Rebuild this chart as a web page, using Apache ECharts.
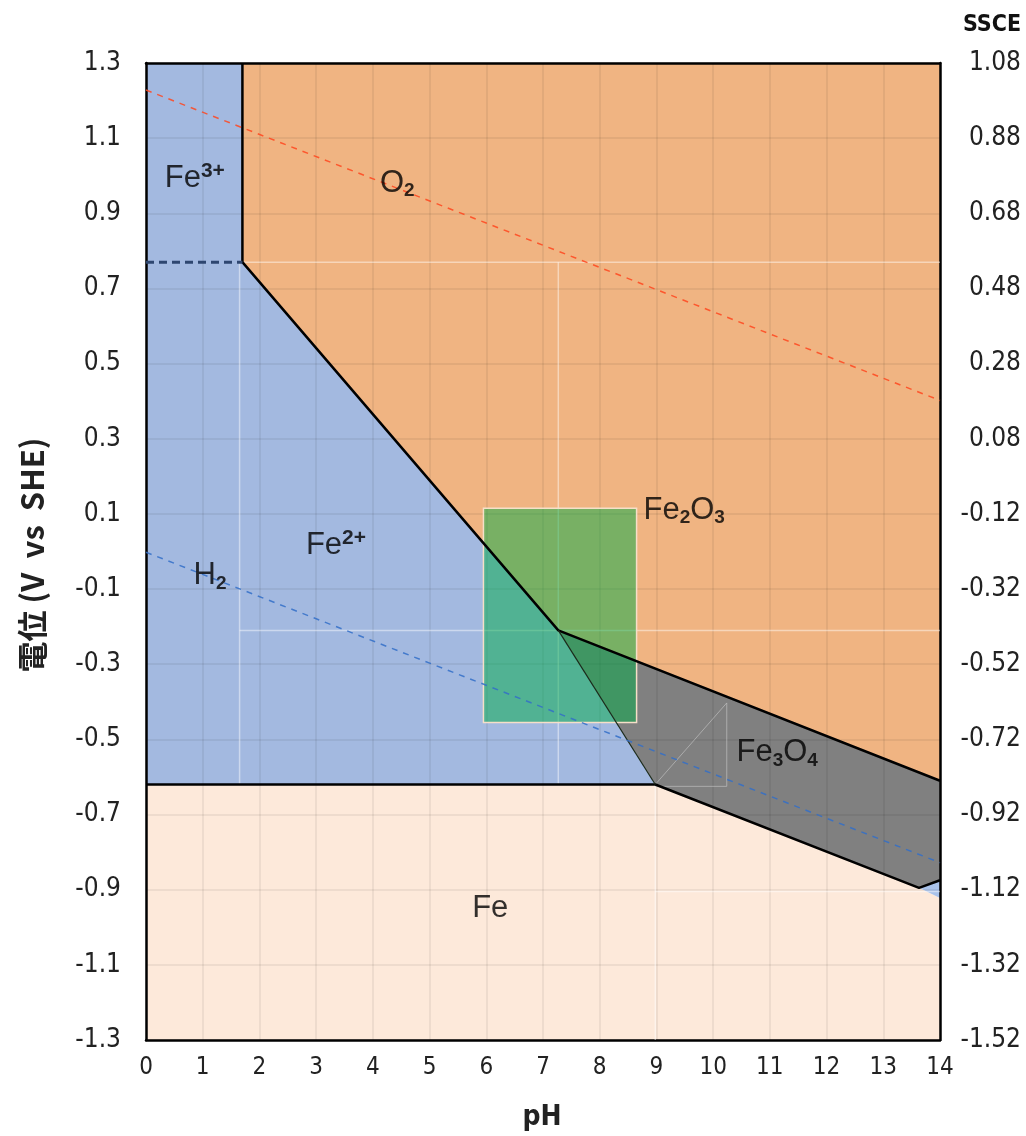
<!DOCTYPE html>
<html><head><meta charset="utf-8">
<script src="https://cdn.jsdelivr.net/npm/echarts@6/dist/echarts.min.js"></script>
<style>html,body{margin:0;padding:0;background:#fff}#c{width:1026px;height:1136px}</style>
</head><body><div id="c"></div>
<script>
// ---- data (pH, E vs SHE in V) ----
const E_MIN = -1.3, E_MAX = 1.3, E_STEP = 0.2;
const PH_MIN = 0, PH_MAX = 14, PH_STEP = 1;
const SSCE_OFFSET = 0.22;

const regionFe3Fe2 = [[0,1.3],[1.7,1.3],[1.7,0.77],[7.27,-0.21],[8.98,-0.62],[0,-0.62]];
const regionFe2O3  = [[1.7,1.3],[14,1.3],[14,-0.61],[7.27,-0.21],[1.7,0.77]];
const regionFe3O4  = [[7.27,-0.21],[14,-0.61],[14,-0.875],[13.63,-0.895],[8.98,-0.62]];
const regionFe     = [[0,-0.62],[8.98,-0.62],[13.63,-0.895],[14,-0.922],[14,-1.3],[0,-1.3]];
const regionHFeO2  = [[13.63,-0.895],[14,-0.875],[14,-0.922]];
const greenRect    = [[5.95,0.115],[8.65,0.115],[8.65,-0.455],[5.95,-0.455]];

const boundaryUpper = [[1.7,1.3],[1.7,0.77],[7.27,-0.21],[14,-0.61]];
const boundaryLower = [[0,-0.62],[8.98,-0.62],[13.63,-0.895],[14,-0.875]];
const boundaryFe2Fe3O4 = [[7.27,-0.21],[8.98,-0.62]];

const lineFe3Fe2 = [[0,0.77],[1.7,0.77]];
const lineO2 = [[0,1.228],[14,0.402]];
const lineH2 = [[0,-0.002],[14,-0.828]];

const faintLines = [
  [[1.65,0.77],[1.65,-0.62]],
  [[1.65,-0.21],[14,-0.21]],
  [[1.7,0.77],[14,0.77]],
  [[7.27,0.77],[7.27,-0.62]],
  [[8.98,-0.905],[14,-0.905]],
  [[8.98,-0.62],[8.98,-1.3]]
];
const grayGuide = [[8.98,-0.62],[10.24,-0.403],[10.24,-0.625],[8.98,-0.625]];

// label text: base part and rich-text script parts
const labelNames = ['Fe{sup|3+}','O{sub|2}','Fe{sub|2}O{sub|3}','Fe{sup|2+}','H{sub|2}','Fe{sub|3}O{sub|4}','Fe'];
const labelPH    = [0.86, 4.43, 9.49, 3.35, 1.13, 11.13, 6.07];
const labelE     = [0.994, 0.98, 0.11, 0.017, -0.065, -0.536, -0.949];

// ---- helpers ----
const toAxis = p => [p[0], p[1] - E_MIN];
const polygons = [regionFe3Fe2, regionFe2O3, regionFe3O4, regionFe, regionHFeO2];
const polyColors = ['#A3B9E0','#F0B482','#808080','#FDE9DA','#A9C2EA'];
const numFont = "'Liberation Sans Narrow','DejaVu Sans Condensed','Liberation Sans',sans-serif";
const lblFont = "'Liberation Sans','DejaVu Sans',sans-serif";

function lineSeries(pts, style, z) {
  return {type:'line', data: pts.map(toAxis), showSymbol:false, symbol:'none', silent:true,
    lineStyle: style, z: z, animation:false, clip:true};
}

const chart = echarts.init(document.getElementById('c'), null, {renderer:'canvas'});
const series = [];
series.push({
  type:'custom', z:1, silent:true, animation:false,
  data: polygons.map((p,i)=>[i]),
  renderItem: (params, api) => {
    const i = params.dataIndex;
    return {type:'polygon', shape:{points: polygons[i].map(p => api.coord(toAxis(p)))},
      style:{fill: polyColors[i], stroke:'none'}};
  }
});
faintLines.forEach(l => series.push(lineSeries(l, {color:'rgba(255,255,255,0.45)', width:1.5}, 4)));
series.push(lineSeries(grayGuide, {color:'rgba(200,200,200,0.6)', width:1}, 4));
series.push({
  type:'custom', z:5, silent:true, animation:false, data:[[0]],
  renderItem: (params, api) => ({type:'polygon',
    shape:{points: greenRect.map(p => api.coord(toAxis(p)))},
    style:{fill:'rgba(0,172,70,0.5)', stroke:'#F6DFC8', lineWidth:1.5}})
});
series.push(lineSeries(boundaryUpper, {color:'#000', width:2.5}, 6));
series.push(lineSeries(boundaryLower, {color:'#000', width:2.5}, 6));
series.push(lineSeries(boundaryFe2Fe3O4, {color:'#1b2a1b', width:1.2}, 6));
series.push(lineSeries(lineFe3Fe2, {color:'#2E4670', width:3, type:[8,5]}, 7));
series.push(lineSeries(lineO2, {color:'rgba(255,70,30,0.85)', width:1.5, type:[6,6]}, 7));
series.push(lineSeries(lineH2, {color:'rgba(50,110,200,0.85)', width:1.5, type:[6,6]}, 7));
series.push({
  type:'scatter', z:8, silent:true, animation:false, symbolSize:0,
  data: labelNames.map((n,i)=>({name:n, value: toAxis([labelPH[i], labelE[i]])})),
  label:{show:true, position:'inside', formatter: p => '{m|' + p.name.replace(/\{(sup|sub)\|([^}]*)\}/g, '}{$1|$2}{m|') + '}',
    rich:{
      m:{fontSize:31, color:'#000', fontFamily:lblFont, lineHeight:34, verticalAlign:'middle'},
      sup:{fontSize:21, color:'#000', fontFamily:lblFont, lineHeight:21, verticalAlign:'top', fontWeight:'bold'},
      sub:{fontSize:19, color:'#000', fontFamily:lblFont, lineHeight:19, verticalAlign:'bottom', fontWeight:'bold'}
    }}
});

chart.setOption({
  animation:false,
  backgroundColor:'#fff',
  grid:{left:146, right:86, top:63, bottom:96, containLabel:false},
  xAxis:[{
    type:'value', min:PH_MIN, max:PH_MAX, interval:PH_STEP, position:'bottom', z:3,
    axisLine:{show:true, onZero:false, lineStyle:{color:'#000', width:2.5}},
    axisTick:{show:false},
    axisLabel:{margin:16, fontSize:24, color:'#222', fontFamily:numFont},
    splitLine:{show:true, lineStyle:{color:'rgba(0,0,0,0.08)', width:1.5}}
  },{
    type:'value', min:PH_MIN, max:PH_MAX, position:'top', z:3,
    axisLine:{show:true, onZero:false, lineStyle:{color:'#000', width:2.5}},
    axisTick:{show:false}, axisLabel:{show:false}, splitLine:{show:false}
  }],
  yAxis:[{
    type:'value', min:0, max:E_MAX - E_MIN, interval:E_STEP, position:'left', z:3,
    axisLine:{show:true, onZero:false, lineStyle:{color:'#000', width:2.5}},
    axisTick:{show:false},
    axisLabel:{margin:25, fontSize:26, color:'#222', fontFamily:numFont,
      formatter: v => (v + E_MIN).toFixed(1)},
    splitLine:{show:true, lineStyle:{color:'rgba(0,0,0,0.08)', width:1.5}}
  },{
    type:'value', min:0, max:E_MAX - E_MIN, interval:E_STEP, position:'right', z:3,
    axisLine:{show:true, onZero:false, lineStyle:{color:'#000', width:2.5}},
    axisTick:{show:false},
    axisLabel:{margin:81, align:'right', fontSize:26, color:'#222', fontFamily:numFont,
      formatter: v => (v + E_MIN - SSCE_OFFSET).toFixed(2)},
    splitLine:{show:false}
  }],
  graphic:[
    {type:'text', x:32, y:555, rotation:Math.PI/2, z:10,
      style:{text:'電位 (V  vs  SHE)', fill:'#222', align:'center', verticalAlign:'middle',
        font:"bold 31px 'Noto Sans CJK JP',sans-serif"}},
    {type:'text', x:542, y:1118, z:10,
      style:{text:'pH', fill:'#222', align:'center', verticalAlign:'middle',
        font:"bold 28px 'Liberation Sans Narrow','DejaVu Sans Condensed',sans-serif"}},
    {type:'text', x:992, y:25, z:10,
      style:{text:'SSCE', fill:'#111', align:'center', verticalAlign:'middle',
        font:"bold 23px 'Liberation Sans Narrow','DejaVu Sans Condensed',sans-serif"}}
  ],
  series: series
});
</script></body></html>
